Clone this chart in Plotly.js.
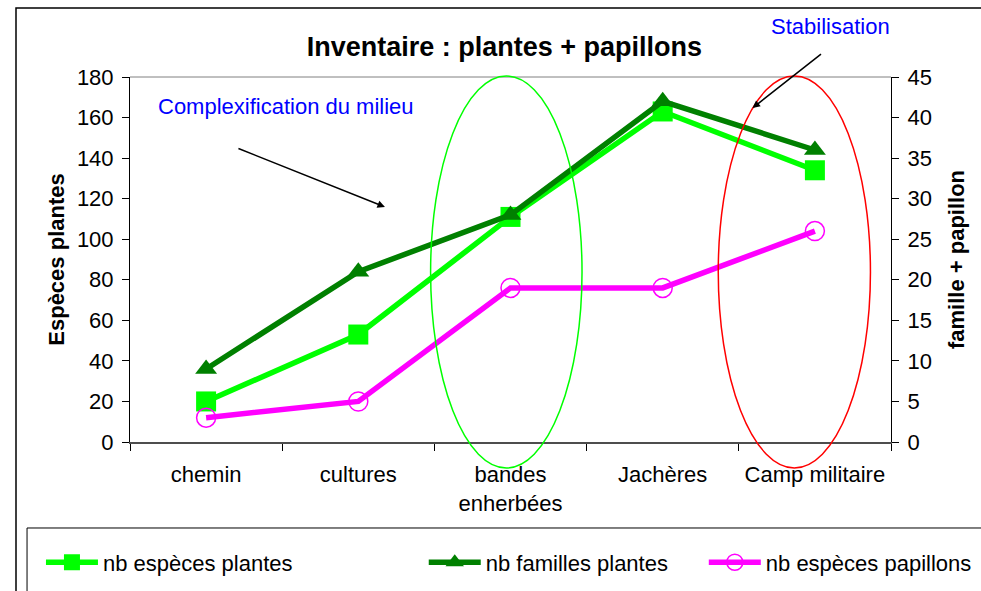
<!DOCTYPE html>
<html>
<head>
<meta charset="utf-8">
<script src="https://cdn.plot.ly/plotly-3.0.1.min.js"></script>
<style>html,body{margin:0;padding:0;background:#fff;}#chart{width:981px;height:591px;}</style>
</head>
<body>
<div id="chart"></div>
<script>
const categories = ["chemin", "cultures", "bandes<br>enherbées", "Jachères", "Camp militaire"];
const especesPlantes = [20, 53, 111, 163, 134];
const famillesPlantes = [9, 21, 28, 42, 36];
const especesPapillons = [3, 5, 19, 19, 26];
const leftTicks = [0, 20, 40, 60, 80, 100, 120, 140, 160, 180];
const rightTicks = [0, 5, 10, 15, 20, 25, 30, 35, 40, 45];

const FONT = "Liberation Sans, Arial, sans-serif";

const traces = [
  {
    name: "nb espèces plantes", x: categories, y: especesPlantes, type: "scatter", mode: "lines+markers",
    line: {color: "#00FF00", width: 5.5}, marker: {symbol: "square", size: 20, color: "#00FF00"},
    yaxis: "y", legend: "legend"
  },
  {
    name: "nb familles plantes", x: categories, y: famillesPlantes, type: "scatter", mode: "lines+markers",
    line: {color: "#008000", width: 5.5}, marker: {symbol: "triangle-up", size: 19, color: "#008000"},
    yaxis: "y2", legend: "legend2"
  },
  {
    name: "nb espèces papillons", x: categories, y: especesPapillons, type: "scatter", mode: "lines+markers",
    line: {color: "#FF00FF", width: 5.5}, marker: {symbol: "circle-open", size: 19, color: "#FF00FF", line: {width: 1.5, color: "#FF00FF"}},
    yaxis: "y2", legend: "legend3"
  }
];

const legendBase = {
  orientation: "h", yanchor: "middle", xanchor: "left", y: -0.33,
  bgcolor: "rgba(0,0,0,0)", borderwidth: 0, font: {family: FONT, size: 22, color: "#000"}, itemwidth: 52
};

const layout = {
  width: 981, height: 591,
  margin: {l: 130, r: 90, t: 77, b: 149, autoexpand: false},
  paper_bgcolor: "#fff", plot_bgcolor: "#fff",
  font: {family: FONT, size: 22, color: "#000"},
  title: {text: "<b>Inventaire : plantes + papillons</b>", font: {family: FONT, size: 27, color: "#000"},
          x: 0.492, xref: "paper", xanchor: "center", y: 0.922, yanchor: "middle"},
  xaxis: {
    type: "category", range: [-0.5, 4.5], tickson: "boundaries", ticks: "outside", ticklen: 7, tickcolor: "#000",
    showline: true, linecolor: "#4d4d4d", linewidth: 2, showgrid: false, zeroline: false,
    tickfont: {family: FONT, size: 22, color: "#000"}, ticklabelstandoff: 12
  },
  xaxis2: {
    overlaying: "x", anchor: "y", range: [-0.5, 4.5], tickvals: [0.5, 1.5, 2.5, 3.5], ticks: "inside", ticklen: 7,
    tickcolor: "#000", showticklabels: false, showline: false, showgrid: false, zeroline: false
  },
  yaxis: {
    range: [0, 180], tickvals: leftTicks, ticks: "outside", ticklen: 7, tickcolor: "#000",
    showline: true, linecolor: "#000", linewidth: 1, showgrid: false, zeroline: false,
    tickfont: {family: FONT, size: 22, color: "#000"}, ticklabelstandoff: 4,
    title: {text: "<b>Espèces plantes</b>", font: {family: FONT, size: 22, color: "#000"}, standoff: 6}
  },
  yaxis2: {
    overlaying: "y", side: "right", anchor: "x", range: [0, 45], tickvals: rightTicks, ticks: "outside", ticklen: 7, tickcolor: "#000",
    showline: true, linecolor: "#000", linewidth: 1, showgrid: false, zeroline: false,
    tickfont: {family: FONT, size: 22, color: "#000"}, ticklabelstandoff: 4,
    title: {text: "<b>famille + papillon</b>", font: {family: FONT, size: 22, color: "#000"}, standoff: 17}
  },
  yaxis3: {
    overlaying: "y", side: "left", anchor: "x", range: [0, 180], tickvals: leftTicks, ticks: "inside", ticklen: 7,
    tickcolor: "#000", showticklabels: false, showline: false, showgrid: false, zeroline: false
  },
  yaxis4: {
    overlaying: "y", side: "right", anchor: "x", range: [0, 45], tickvals: rightTicks, ticks: "inside", ticklen: 7,
    tickcolor: "#000", showticklabels: false, showline: false, showgrid: false, zeroline: false
  },
  legend: Object.assign({}, legendBase, {x: -0.117}),
  legend2: Object.assign({}, legendBase, {x: 0.386}),
  legend3: Object.assign({}, legendBase, {x: 0.754}),
  shapes: [
    {type: "rect", xref: "paper", yref: "paper", x0: -0.1498, x1: 1.2, y0: -0.6, y1: 1.189, line: {color: "#000", width: 1.5}, fillcolor: "rgba(0,0,0,0)", layer: "below"},
    {type: "rect", xref: "paper", yref: "paper", x0: -0.1353, x1: 1.2, y0: -0.6, y1: -0.2356, line: {color: "#000", width: 1}, fillcolor: "rgba(0,0,0,0)"},
    {type: "line", xref: "paper", yref: "paper", x0: 0, x1: 1, y0: 1, y1: 1, line: {color: "#808080", width: 1}},
    {type: "circle", xref: "paper", yref: "paper", x0: 0.395, x1: 0.594, y0: -0.0712, y1: 1.0027, line: {color: "#00FF00", width: 1.5}, fillcolor: "rgba(0,0,0,0)"},
    {type: "circle", xref: "paper", yref: "paper", x0: 0.773, x1: 0.973, y0: -0.0712, y1: 1.0027, line: {color: "#FF0000", width: 1.5}, fillcolor: "rgba(0,0,0,0)"}
  ],
  annotations: [
    {text: "Complexification du milieu", xref: "paper", yref: "paper", x: 0.2056, y: 0.9205, showarrow: false,
     font: {family: FONT, size: 22, color: "#0000FF"}, xanchor: "center", yanchor: "middle"},
    {text: "Stabilisation", xref: "paper", yref: "paper", x: 0.921, y: 1.137, showarrow: false,
     font: {family: FONT, size: 22, color: "#0000FF"}, xanchor: "center", yanchor: "middle"},
    {text: "", xref: "paper", yref: "paper", x: 0.335, y: 0.644, showarrow: true, ax: -148, ay: -59,
     arrowhead: 2, arrowsize: 1, arrowwidth: 1.5, arrowcolor: "#000", standoff: 0},
    {text: "", xref: "paper", yref: "paper", x: 0.818, y: 0.915, showarrow: true, ax: 70, ay: -55,
     arrowhead: 2, arrowsize: 1, arrowwidth: 1.5, arrowcolor: "#000", standoff: 0}
  ],
  showlegend: true
};

Plotly.newPlot("chart", traces, layout, {displayModeBar: false, staticPlot: true});
</script>
</body>
</html>
